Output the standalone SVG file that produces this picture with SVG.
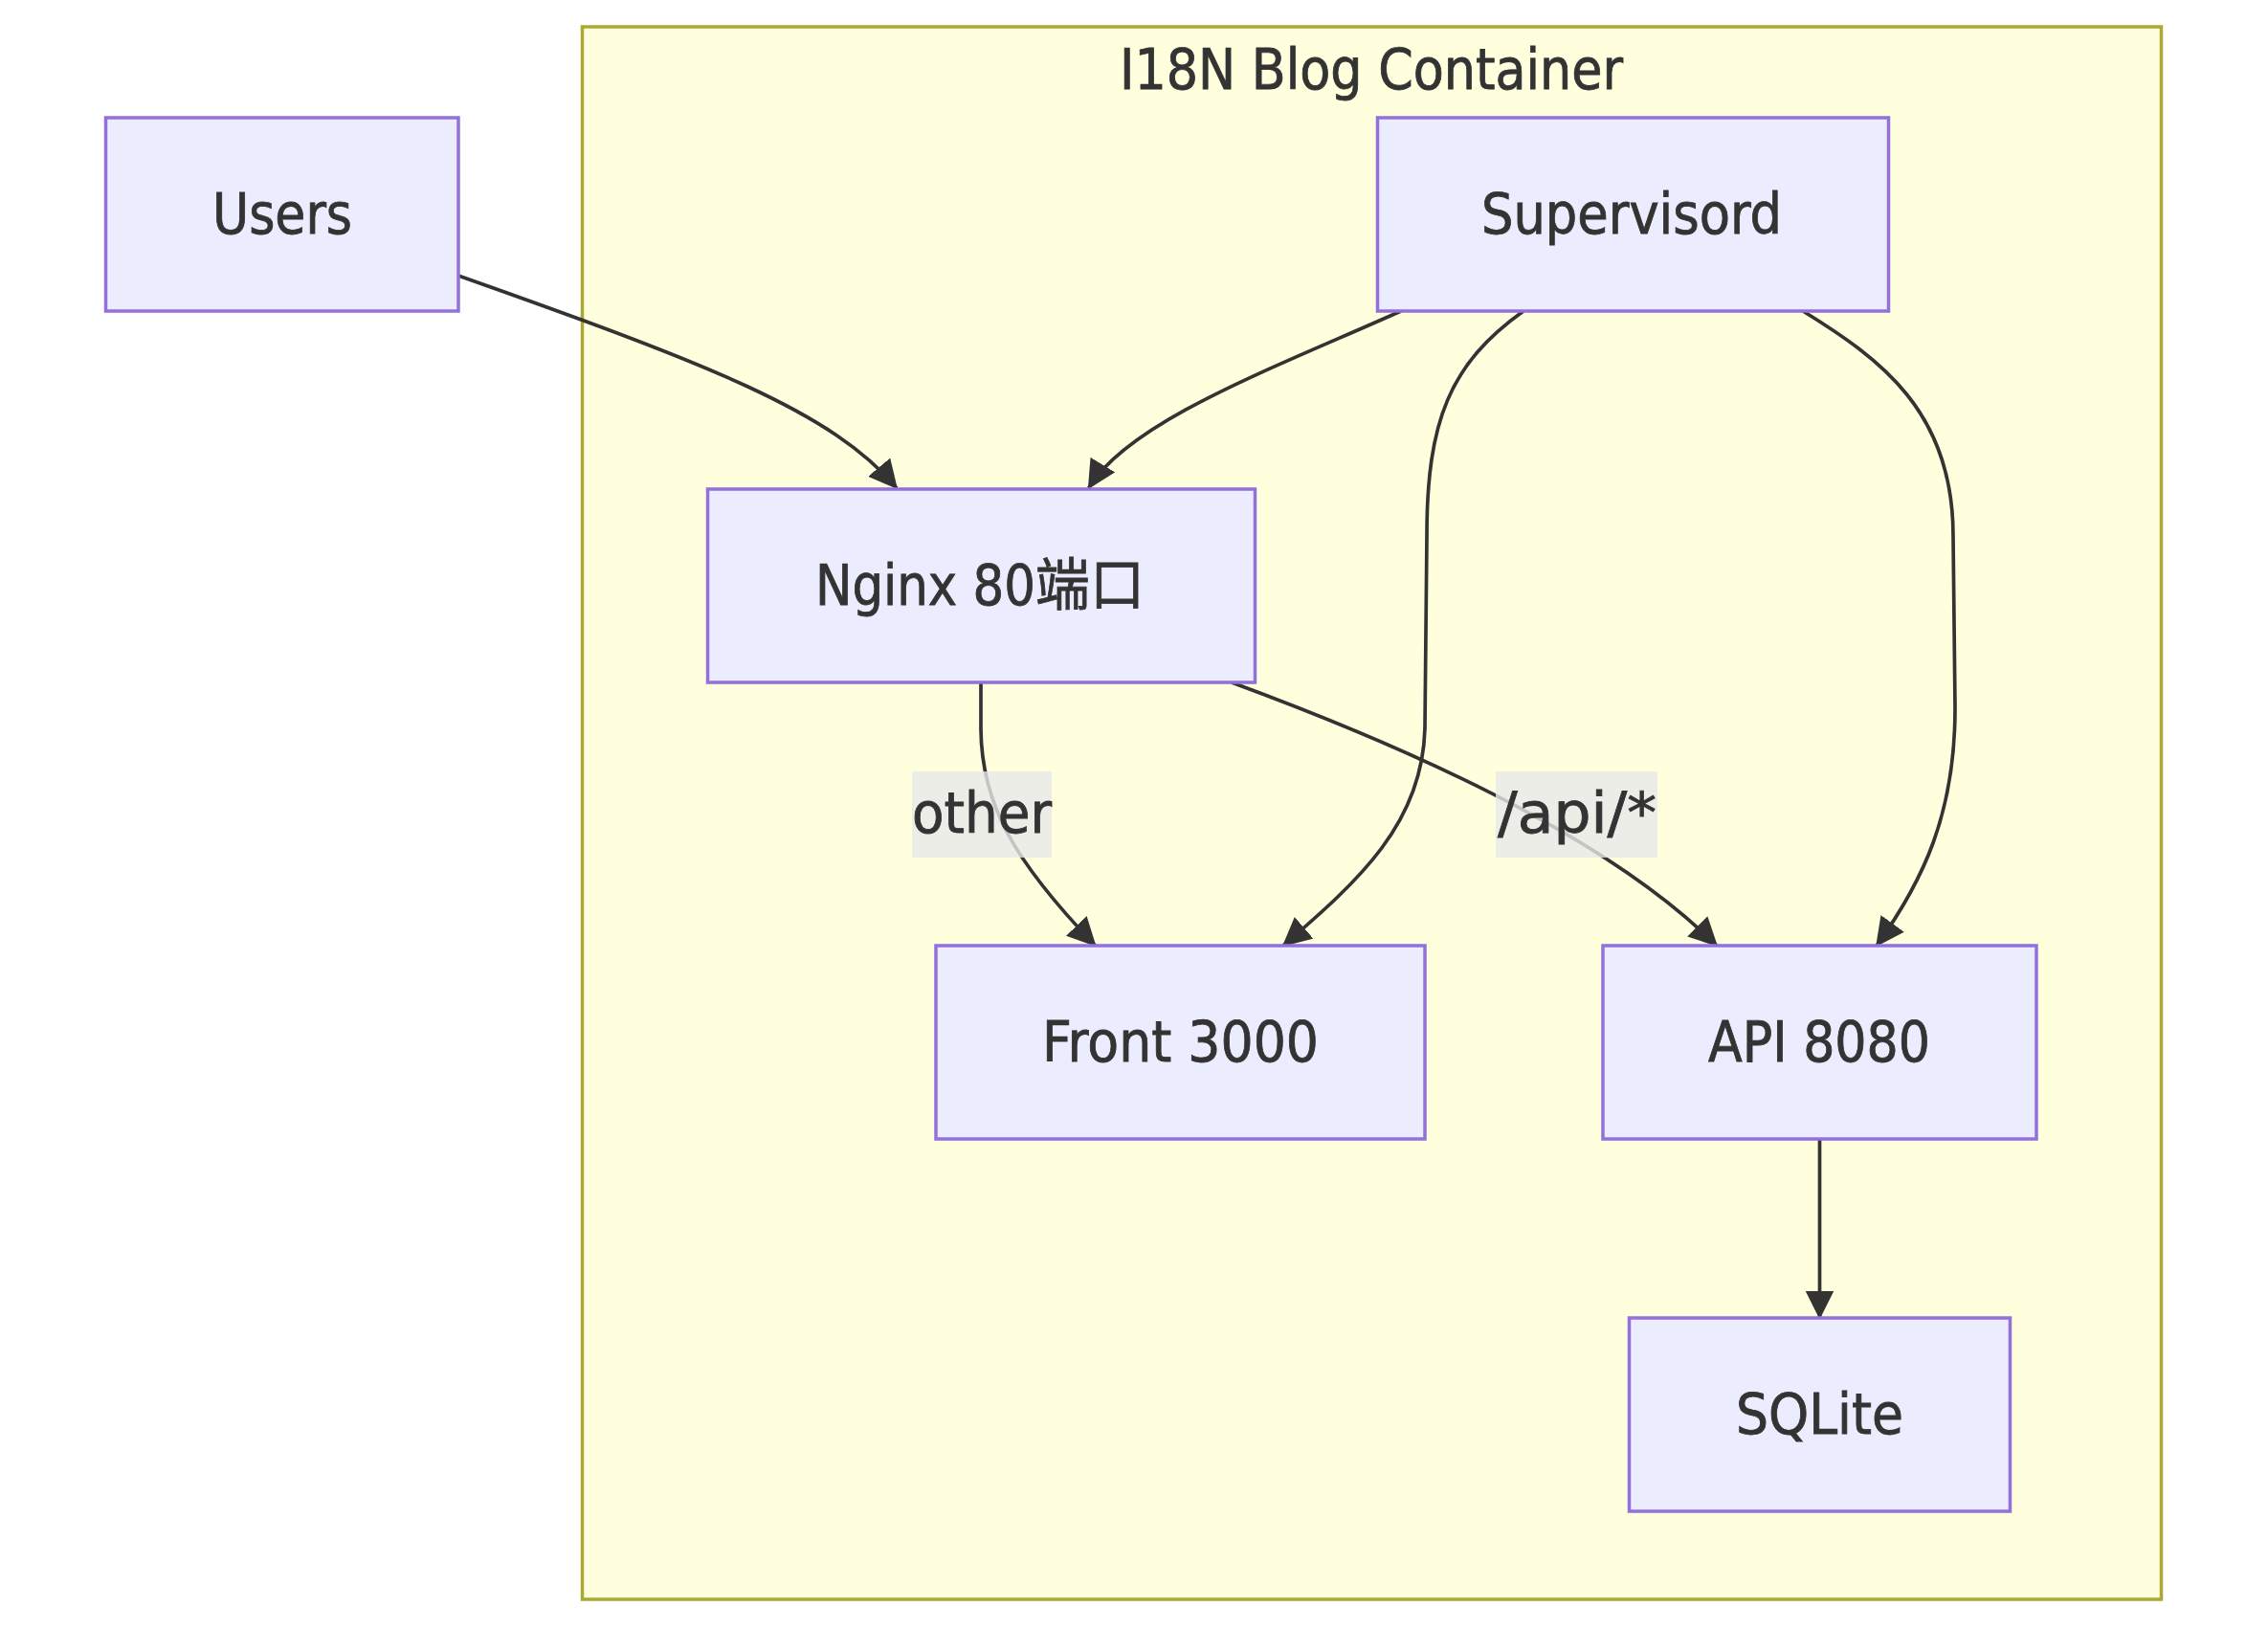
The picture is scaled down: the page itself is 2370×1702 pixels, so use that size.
<svg xmlns="http://www.w3.org/2000/svg" width="2370" height="1702" viewBox="0 0 2370 1702">
<style>
.bg{fill:#ffffff}
.cluster rect{fill:#ffffde;stroke:#aaaa33;stroke-width:3.5}
.node rect{fill:#ECECFF;stroke:#9370DB;stroke-width:3.5}
text{font-family:"DejaVu Sans Condensed","Noto Sans","Noto Sans CJK SC",sans-serif;font-size:59px;fill:#333333;stroke:#333333;stroke-width:0.8;text-anchor:middle}
.edge{fill:none;stroke:#333333;stroke-width:3.7;marker-end:url(#arrow)}
.lbl rect{fill:rgba(232,232,232,0.8)}
</style>
<defs>
<marker id="arrow" viewBox="0 0 10 10" refX="9.5" refY="5" markerUnits="userSpaceOnUse" markerWidth="30" markerHeight="30" orient="auto">
<path d="M0,0 L10,5 L0,10 z" fill="#333333"/>
</marker>
</defs>
<rect class="bg" x="0" y="0" width="2370" height="1702"/>
<g id="container" class="cluster">
<rect x="608.5" y="28" width="1650" height="1643"/>
<text x="1433" y="93" textLength="526" lengthAdjust="spacingAndGlyphs">I18N Blog Container</text>
</g>
<g id="edges">
<path class="edge" d="M479,288 C739,380 870,430 937,510"/>
<path class="edge" d="M1464,325 C1330,385 1180,440 1137.6,510"/>
<path class="edge" d="M1592,325 C1515,380 1491,440 1491,560 L1489,760 C1487,860 1420,920 1341,988"/>
<path class="edge" d="M1884,325 C1965,375 2041,430 2041,560 L2043,740 C2043,850 2010,920 1961,988"/>
<path class="edge" d="M1025,713 L1025,760 C1025,840 1060,900 1144.5,988"/>
<path class="edge" d="M1287,713 C1537,805 1700,895 1794,988"/>
<path class="edge" d="M1901.5,1191 L1901.5,1377"/>
</g>
<g id="edge-labels">
<g id="label-other" class="lbl">
<rect x="953" y="806" width="146" height="90"/>
<text x="1026" y="870" textLength="146" lengthAdjust="spacingAndGlyphs">other</text>
</g>
<g id="label-api" class="lbl">
<rect x="1563" y="806" width="169" height="90"/>
<text x="1648" y="870" textLength="166" lengthAdjust="spacingAndGlyphs">/api/*</text>
</g>
</g>
<g id="users" class="node">
<rect x="110.5" y="123" width="368.5" height="202"/>
<text x="295" y="244" textLength="146" lengthAdjust="spacingAndGlyphs">Users</text>
</g>
<g id="supervisord" class="node">
<rect x="1439.5" y="123" width="534" height="202"/>
<text x="1705" y="244" textLength="314" lengthAdjust="spacingAndGlyphs">Supervisord</text>
</g>
<g id="nginx" class="node">
<rect x="739.5" y="511" width="572" height="202"/>
<text x="1024" y="632" textLength="344" lengthAdjust="spacingAndGlyphs">Nginx 80端口</text>
</g>
<g id="front" class="node">
<rect x="978" y="988" width="511" height="202"/>
<text x="1233.5" y="1109" textLength="289" lengthAdjust="spacingAndGlyphs">Front 3000</text>
</g>
<g id="api" class="node">
<rect x="1675" y="988" width="453" height="202"/>
<text x="1901" y="1109" textLength="232" lengthAdjust="spacingAndGlyphs">API 8080</text>
</g>
<g id="sqlite" class="node">
<rect x="1702.5" y="1377" width="398" height="202"/>
<text x="1901.5" y="1498" textLength="175" lengthAdjust="spacingAndGlyphs">SQLite</text>
</g>
</svg>
